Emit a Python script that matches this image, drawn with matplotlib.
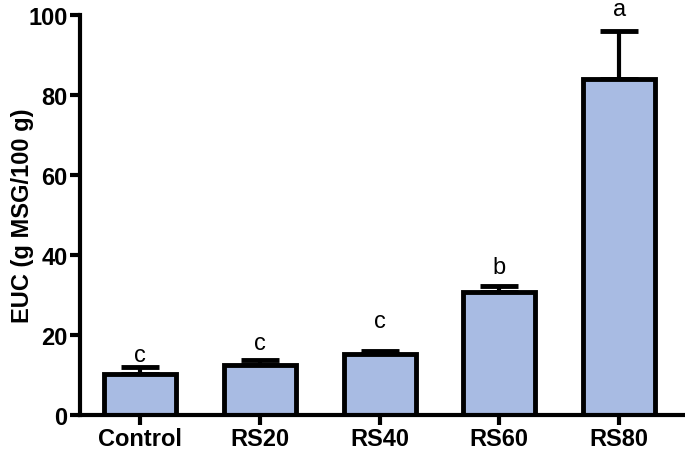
import matplotlib
matplotlib.use("Agg")
import matplotlib.pyplot as plt

categories = ["Control", "RS20", "RS40", "RS60", "RS80"]
means = [10.2, 12.5, 15.2, 30.6, 84.0]
errors = [1.7, 1.2, 0.8, 1.5, 11.8]
letters = ["c", "c", "c", "b", "a"]
letter_y = [15.0, 18.0, 23.5, 37.0, 101.3]

plt.rcParams['font.family'] = ['Liberation Sans', 'DejaVu Sans']

fig = plt.figure(figsize=(6.85, 4.56), dpi=100)
ax = fig.add_axes([0.117, 0.088, 0.883, 0.878])

x = range(len(categories))
ax.bar(x, means, width=0.6, color="#A8BBE3", edgecolor="black", linewidth=3.5, zorder=2)
ax.errorbar(x, means, yerr=[[0]*len(errors), errors], fmt="none", ecolor="black",
            elinewidth=3, capsize=13.5, capthick=3.5, zorder=1)
for xi, l, ly in zip(x, letters, letter_y):
    ax.text(xi, ly, l, ha="center", va="center", fontsize=17, clip_on=False)

ax.set_xlim(-0.5, 4.55)
ax.set_ylim(0, 100)
ax.set_yticks([0, 20, 40, 60, 80, 100])
ax.set_xticks(list(x))
ax.set_xticklabels(categories)
for lab in ax.get_xticklabels() + ax.get_yticklabels():
    lab.set_fontweight("bold")
    lab.set_fontsize(17)
ax.set_ylabel("EUC (g MSG/100 g)", fontsize=17, fontweight="bold")
ax.yaxis.set_label_coords(-0.077, 0.5)
ax.spines["top"].set_visible(False)
ax.spines["right"].set_visible(False)
ax.spines["left"].set_linewidth(3)
ax.spines["bottom"].set_linewidth(3)
ax.tick_params(axis="both", width=3, length=7, pad=2)

fig.savefig("out.png", dpi=100)
